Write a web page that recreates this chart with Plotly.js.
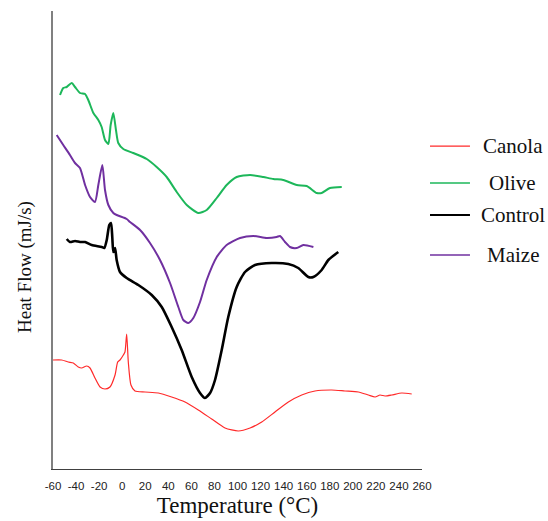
<!DOCTYPE html>
<html>
<head>
<meta charset="utf-8">
<script src="https://cdn.plot.ly/plotly-3.0.1.min.js"></script>
<style>html,body{margin:0;padding:0;background:#fff;}#chart{width:548px;height:521px;}</style>
</head>
<body>
<div id="chart"></div>
<script>
// Temperature (°C) and heat flow (arbitrary mJ/s units)
const oliveT = [-53.9,-51.1,-48.1,-43.8,-40.9,-36.6,-32.2,-29.4,-25.0,-20.7,-17.8,-14.9,-12.0,-10.0,-7.7,-5.4,-3.4,1.0,9.6,21.3,29.9,38.6,47.3,56.0,66.0,73.3,82.0,90.6,99.3,110.9,122.4,131.1,139.7,151.4,160.0,168.7,173.0,180.2,190.4];
const oliveHF = [3.74,3.81,3.82,3.86,3.82,3.76,3.75,3.69,3.56,3.49,3.42,3.29,3.25,3.44,3.56,3.39,3.26,3.20,3.16,3.10,3.02,2.92,2.77,2.64,2.56,2.59,2.71,2.84,2.92,2.94,2.92,2.90,2.89,2.84,2.83,2.76,2.76,2.81,2.82];

const maizeT = [-56.8,-51.1,-45.3,-40.9,-36.6,-32.2,-27.9,-23.6,-20.7,-17.2,-14.9,-12.0,-7.7,-4.8,3.9,6.8,15.5,24.1,32.8,41.5,48.7,53.0,57.3,61.7,67.5,73.3,82.0,90.6,102.2,113.7,125.3,134.0,136.9,141.2,145.5,151.4,157.1,165.8];
const maizeHF = [3.34,3.24,3.14,3.06,3.01,2.84,2.72,2.67,2.84,3.04,2.79,2.64,2.56,2.54,2.50,2.47,2.39,2.26,2.09,1.86,1.62,1.49,1.46,1.51,1.67,1.89,2.12,2.24,2.31,2.33,2.31,2.32,2.33,2.27,2.22,2.21,2.24,2.22];

const controlT = [-48.1,-45.3,-40.9,-36.6,-32.2,-26.4,-17.8,-15.5,-13.4,-11.2,-9.7,-8.6,-7.7,-6.2,-4.8,-1.9,3.9,14.0,25.6,34.3,42.9,51.6,60.3,67.5,71.8,76.2,80.5,86.3,92.0,99.3,106.5,115.2,129.7,144.1,152.7,161.4,165.8,173.0,178.8,187.4];
const controlHF = [2.30,2.27,2.28,2.27,2.27,2.24,2.22,2.21,2.29,2.44,2.46,2.32,2.17,2.21,2.09,1.97,1.91,1.84,1.74,1.62,1.42,1.19,0.92,0.76,0.71,0.76,0.89,1.19,1.52,1.82,1.97,2.04,2.06,2.05,2.01,1.92,1.92,1.99,2.09,2.17];

const canolaT = [-60.0,-52.5,-46.7,-42.4,-38.1,-35.1,-30.8,-27.9,-23.6,-19.2,-14.9,-10.6,-6.2,-3.9,-1.9,1.0,2.4,3.9,5.3,7.6,11.1,19.8,31.3,42.9,54.5,66.0,77.6,89.2,100.7,110.9,121.0,132.5,144.1,155.7,167.2,181.7,193.2,204.8,213.5,219.3,223.6,227.9,233.8,242.4,251.1];
const canolaHF = [1.09,1.09,1.07,1.06,1.02,1.01,1.03,1.01,0.91,0.82,0.80,0.82,0.94,1.07,1.09,1.14,1.17,1.35,1.07,0.84,0.78,0.77,0.76,0.72,0.67,0.59,0.50,0.41,0.38,0.41,0.47,0.57,0.67,0.74,0.78,0.79,0.78,0.77,0.74,0.72,0.74,0.73,0.74,0.76,0.75];

const seriesNames = ["Canola", "Olive", "Control", "Maize"];
const seriesColors = ["#ff2a2a", "#1db75a", "#000000", "#7030a0"];
const seriesWidths = [1.2, 2, 2.6, 2];
const xTickVals = [-60,-40,-20,0,20,40,60,80,100,120,140,160,180,200,220,240,260];

const serif = "'Liberation Serif', 'Times New Roman', serif";
const seriesData = [[canolaT, canolaHF], [oliveT, oliveHF], [controlT, controlHF], [maizeT, maizeHF]];
const traces = seriesData.map((d, i) => ({
  x: d[0], y: d[1], type: "scatter", mode: "lines", name: seriesNames[i],
  line: {color: seriesColors[i], width: seriesWidths[i], shape: "spline", smoothing: 0.6},
  showlegend: false, hoverinfo: "x+y+name"
}));

// legend drawn as line samples + text at the right
const legendY = [0.705, 0.6245, 0.5546, 0.4672];
const shapes = seriesNames.map((n, i) => ({
  type: "line", xref: "paper", yref: "paper", x0: 1.0217, x1: 1.130, y0: legendY[i], y1: legendY[i],
  line: {color: seriesColors[i], width: i === 0 ? 1.3 : (i === 2 ? 2 : 1.5)}
}));
const annotations = seriesNames.map((n, i) => ({
  text: n, xref: "paper", yref: "paper", x: 1.2466, y: legendY[i], xanchor: "center", yanchor: "middle",
  showarrow: false, font: {family: serif, size: 21, color: "#111"}
}));
annotations.push({
  text: "Heat Flow (mJ/s)", xref: "paper", yref: "paper", x: -0.0759, y: 0.441, textangle: -90,
  xanchor: "center", yanchor: "middle", showarrow: false,
  font: {family: serif, size: 19, color: "#111"}
});

const layout = {
  width: 548, height: 521,
  margin: {l: 53, r: 126, t: 11, b: 52},
  paper_bgcolor: "#ffffff", plot_bgcolor: "#ffffff",
  showlegend: false,
  xaxis: {
    range: [-60, 260], tickvals: xTickVals, ticktext: xTickVals.map(String),
    showgrid: false, zeroline: false, showline: true, linecolor: "#404040", linewidth: 1,
    ticks: "", ticklabelstandoff: 6,
    tickfont: {family: "Liberation Sans, Arial, sans-serif", size: 11.5, color: "#222"},
    title: {text: "Temperature (°C)", standoff: 6, font: {family: serif, size: 23, color: "#111"}}
  },
  yaxis: {
    range: [0, 4.58], showgrid: false, zeroline: false, showline: true, linecolor: "#808080", linewidth: 2,
    showticklabels: false, ticks: ""
  },
  shapes: shapes,
  annotations: annotations
};

Plotly.newPlot("chart", traces, layout, {displayModeBar: false, staticPlot: true});
</script>
</body>
</html>
